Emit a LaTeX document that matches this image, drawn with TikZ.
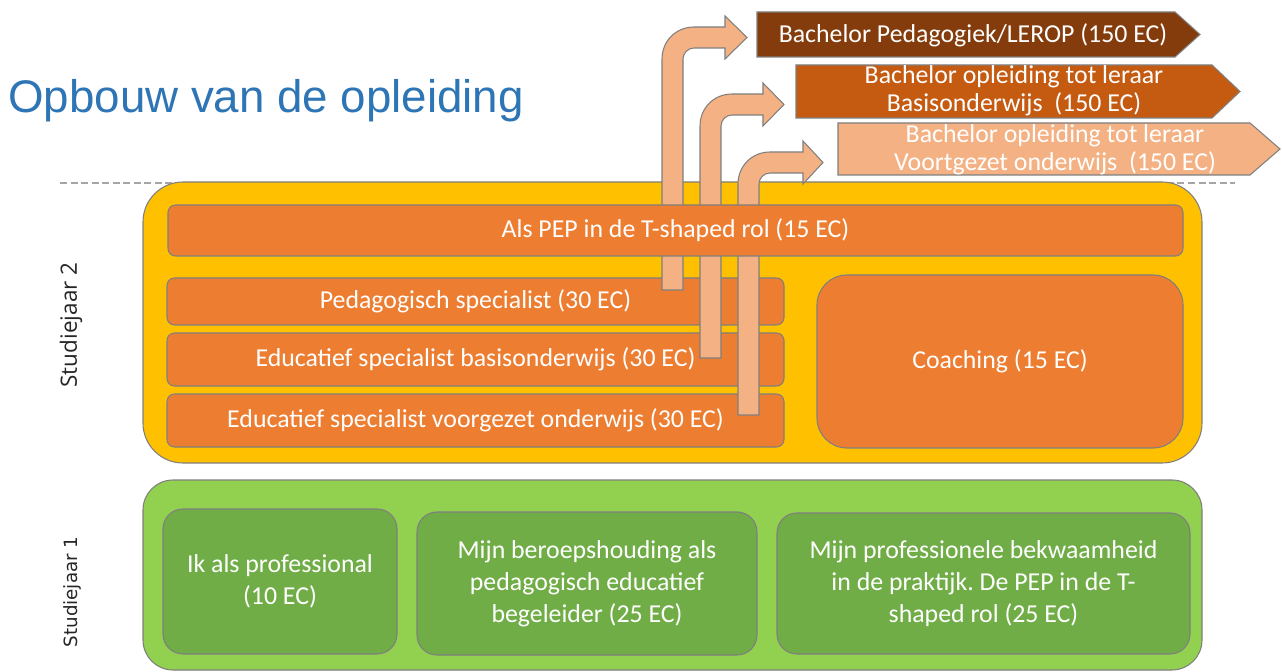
\documentclass[tikz,border=0pt]{standalone}
\usepackage{fontspec}
\setmainfont{Carlito}
\newfontfamily\titelfont{Liberation Sans}
\newfontfamily\jaarfont{Open Sans}
\newfontfamily\jaarfontb{DejaVu Sans}
\usepackage{tikz}
\usetikzlibrary{positioning}
\definecolor{geel}{HTML}{FFC000}
\definecolor{oranje}{HTML}{ED7D31}
\definecolor{lichtgroen}{HTML}{92D050}
\definecolor{groen}{HTML}{70AD47}
\definecolor{bruin}{HTML}{843C0C}
\definecolor{roest}{HTML}{C55A11}
\definecolor{zalm}{HTML}{F4B183}
\definecolor{titelblauw}{HTML}{2E75B6}
\definecolor{rand}{HTML}{7F7F7F}
\frenchspacing
\newcommand{\px}{0.02cm}
% bent arrow: x left, y bottom, y top, x head base, x tip
\newcommand{\bocht}[5]{%
  \draw[bocht] (#1,#2) -- (#1,{#3+32})
    .. controls (#1,{#3+14}) and ({#1+14},#3) .. ({#1+32},#3)
    -- (#4,#3) -- (#4,{#3-11}) -- (#5,{#3+10.5}) -- (#4,{#3+32}) -- (#4,{#3+21})
    -- ({#1+32},{#3+21})
    .. controls ({#1+26},{#3+21}) and ({#1+21},{#3+26}) .. ({#1+21},{#3+32})
    -- ({#1+21},#2) -- cycle;}

\begin{document}
\begin{tikzpicture}[x=\px,y=-\px,
    tekst/.style={text=white,align=center,inner sep=0pt,
      font=\fontsize{14.7}{18.1}\selectfont},
    jaar/.style={draw=rand,line width=0.6pt},
    vak/.style={tekst,draw=rand,line width=0.6pt,fill=oranje,rounded corners=0.15cm},
    gvak/.style={tekst,draw=rand,line width=0.6pt,fill=groen,rounded corners=0.4cm},
    pijl/.style={draw=rand,line width=0.6pt},
    pijltekst/.style={tekst,font=\fontsize{14.7}{15.9}\selectfont},
    bocht/.style={draw=rand,line width=0.6pt,fill=zalm}]
  \useasboundingbox (0,0) rectangle (1282,672);
  \fill[white] (0,0) rectangle (1282,672);

  % Title
  \node[anchor=base west,inner sep=0pt,text=titelblauw,
    font=\titelfont\fontsize{26}{30}\selectfont] (titel) at (8,113) {Opbouw van de opleiding};
  \draw[rand!70,line width=0.6pt,dash pattern=on 4pt off 2pt] (60,183) -- (1235,183);

  % Bachelor routes
  \draw[pijl,fill=bruin] (757,12) -- (1175,12) -- (1200,34.5) -- (1175,57) -- (757,57) -- cycle;
  \node[pijltekst] (bach1) at (973,35) {Bachelor Pedagogiek/LEROP (150 EC)};
  \draw[pijl,fill=roest] (796,65) -- (1212,65) -- (1240,91.5) -- (1212,118) -- (796,118) -- cycle;
  \node[pijltekst] (bach2) at (1014,91) {Bachelor opleiding tot leraar\\Basisonderwijs~~(150 EC)};
  \draw[pijl,fill=zalm] (838,123) -- (1250,123) -- (1280,149) -- (1250,175) -- (838,175) -- cycle;
  \node[pijltekst] (bach3) at (1055,150) {Bachelor opleiding tot leraar\\Voortgezet onderwijs~~(150 EC)};

  % Studiejaar 2
  \node[jaar,fill=geel,rounded corners=0.8cm,minimum width=1059*\px,minimum height=281*\px] (jaar2) at (672.5,322.5) {};
  \node[vak,minimum width=617*\px,minimum height=47*\px] (ped) at (475.5,301.5) {Pedagogisch specialist (30 EC)};
  \node[vak,minimum width=617*\px,minimum height=53*\px] (basis) at (475.5,359.5) {Educatief specialist basisonderwijs (30 EC)};
  \node[vak,minimum width=617*\px,minimum height=53*\px] (vo) at (475.5,420.5) {Educatief specialist voorgezet onderwijs (30 EC)};
  \node[vak,rounded corners=0.6cm,minimum width=366*\px,minimum height=173*\px] (coach) at (1000,361.5) {Coaching (15 EC)};
  \bocht{662}{290}{27}{725}{747}
  \bocht{700}{358}{94}{763}{784}
  \bocht{738}{415}{152}{803}{823}
  \node[vak,minimum width=1015*\px,minimum height=51*\px] (pep) at (675.5,230.5) {Als PEP in de T-shaped rol (15 EC)};
  \node[rotate=90,inner sep=0pt,text=black!85,font=\jaarfont\fontsize{12.8}{15}\selectfont] (lbl2) at (71,325) {Studiejaar 2};

  % Studiejaar 1
  \node[jaar,fill=lichtgroen,rounded corners=0.6cm,minimum width=1059*\px,minimum height=190*\px] (jaar1) at (672.5,575) {};
  \node[gvak,minimum width=234*\px,minimum height=145*\px] (ik) at (280,581.5) {Ik als professional\\(10 EC)};
  \node[gvak,minimum width=340*\px,minimum height=143*\px] (houding) at (587,583.5) {Mijn beroepshouding als\\pedagogisch educatief\\begeleider (25 EC)};
  \node[gvak,minimum width=413*\px,minimum height=141*\px] (praktijk) at (983.5,583.5) {Mijn professionele bekwaamheid\\in de praktijk. De PEP in de T-\\shaped rol (25 EC)};
  \node[rotate=90,inner sep=0pt,text=black!85,font=\jaarfontb\fontsize{10.4}{12}\selectfont] (lbl1) at (72,592) {Studiejaar 1};
\end{tikzpicture}
\end{document}
